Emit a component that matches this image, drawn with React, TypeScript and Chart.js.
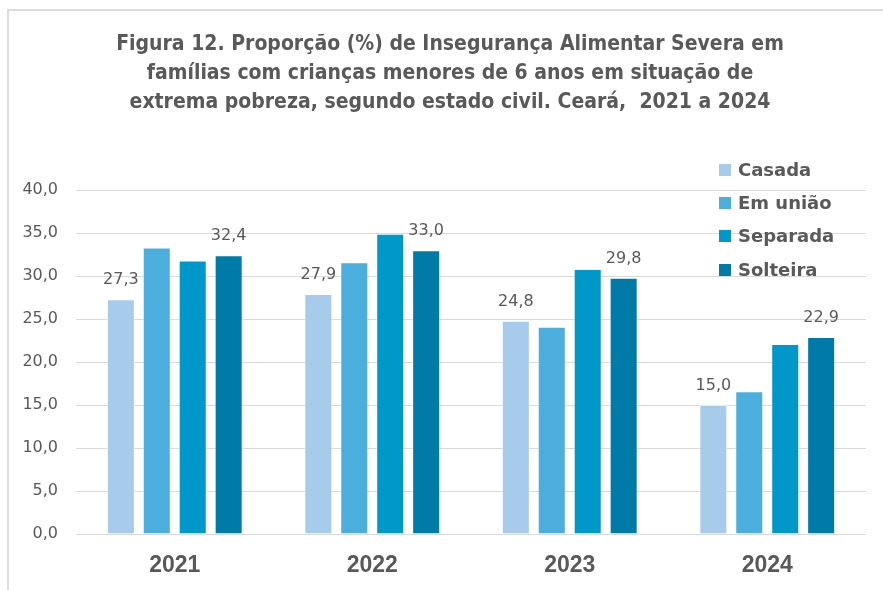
import React, { useEffect, useRef } from "react";
import { Chart, registerables } from "chart.js";

Chart.register(...registerables);

const categories = ["2021", "2022", "2023", "2024"];
const seriesNames = ["Casada", "Em união", "Separada", "Solteira"];
const casada = [27.3, 27.9, 24.8, 15.0];
const emUniao = [33.3, 31.6, 24.1, 16.6];
const separada = [31.8, 34.9, 30.8, 22.1];
const solteira = [32.4, 33.0, 29.8, 22.9];
const labeledSeries = [0, 3];
const seriesColors = ["#A6CBEB", "#4BAEDC", "#0097C9", "#007BA7"];
const titleLines = [
  "Figura 12. Proporção (%) de Insegurança Alimentar Severa em",
  "famílias com crianças menores de 6 anos em situação de",
  "extrema pobreza, segundo estado civil. Ceará,  2021 a 2024",
];
const yMin = 0;
const yMax = 40;
const yStep = 5;

const TEXT = "#595959";
const fmt = (v: number) => v.toFixed(1).replace(".", ",");

const overlayPlugin = {
  id: "overlay",
  afterDraw(chart: any) {
    const ctx = chart.ctx;
    ctx.save();
    // title
    ctx.font = "bold 21px 'DejaVu Sans Condensed', 'DejaVu Sans'";
    ctx.fillStyle = TEXT;
    ctx.textAlign = "center";
    ctx.textBaseline = "middle";
    titleLines.forEach((line, i) => {
      ctx.fillText(line, 450, 45 + i * 29);
    });
    // data labels
    ctx.font = "16px 'DejaVu Sans'";
    ctx.textBaseline = "alphabetic";
    labeledSeries.forEach((di) => {
      const meta = chart.getDatasetMeta(di);
      meta.data.forEach((bar: any, i: number) => {
        const v = chart.data.datasets[di].data[i] as number;
        ctx.fillText(fmt(v), bar.x, bar.y - 15);
      });
    });
    // legend
    const lx = 719;
    const ly = [170, 203, 236, 270];
    ctx.font = "bold 18px 'DejaVu Sans'";
    ctx.textAlign = "left";
    ctx.textBaseline = "middle";
    chart.data.datasets.forEach((ds: any, i: number) => {
      ctx.fillStyle = ds.backgroundColor;
      ctx.fillRect(lx, ly[i] - 6, 12, 12);
      ctx.fillStyle = TEXT;
      ctx.fillText(ds.label, lx + 19, ly[i] + 1);
    });
    ctx.restore();
  },
};

export default function App() {
  const ref = useRef<HTMLCanvasElement>(null);
  useEffect(() => {
    if (!ref.current) return;
    const seriesData = [casada, emUniao, separada, solteira];
    const chart = new Chart(ref.current, {
      type: "bar",
      data: {
        labels: categories,
        datasets: seriesNames.map((name, i) => ({
          label: name,
          data: seriesData[i],
          backgroundColor: seriesColors[i],
          borderColor: "rgba(255,255,255,0.5)",
          borderWidth: 1,
          categoryPercentage: 0.728,
          barPercentage: 0.78,
        })),
      },
      options: {
        responsive: false,
        animation: false,
        devicePixelRatio: 1,
        layout: { padding: { left: 16, right: 17, top: 190, bottom: 0 } },
        plugins: {
          legend: { display: false },
          tooltip: { enabled: false },
          title: { display: false },
        },
        scales: {
          x: {
            grid: { display: false, drawTicks: false },
            border: { display: false },
            ticks: {
              color: TEXT,
              padding: 18,
              font: { family: "'Liberation Sans'", weight: "bold", size: 23 },
            },
            afterFit: (axis: any) => {
              axis.height = 56;
            },
          },
          y: {
            min: yMin,
            max: yMax,
            grid: { color: "#D9D9D9", lineWidth: 1, drawTicks: false },
            border: { display: false },
            ticks: {
              stepSize: yStep,
              color: TEXT,
              padding: 18,
              font: { family: "'DejaVu Sans'", size: 16 },
              callback: (v: any) => fmt(Number(v)),
            },
            afterFit: (axis: any) => {
              axis.width = 60;
            },
          },
        },
      },
      plugins: [overlayPlugin],
    });
    return () => chart.destroy();
  }, []);

  return (
    <div
      style={{
        position: "fixed",
        left: 0,
        top: 0,
        width: 883,
        height: 590,
        overflow: "hidden",
        background: "#fff",
      }}
    >
      <div
        style={{
          position: "absolute",
          left: 7,
          top: 9,
          width: 900,
          height: 600,
          border: "2px solid #DCDCDC",
        }}
      />
      <canvas
        ref={ref}
        width={883}
        height={590}
        style={{ position: "absolute", left: 0, top: 0 }}
      />
    </div>
  );
}
